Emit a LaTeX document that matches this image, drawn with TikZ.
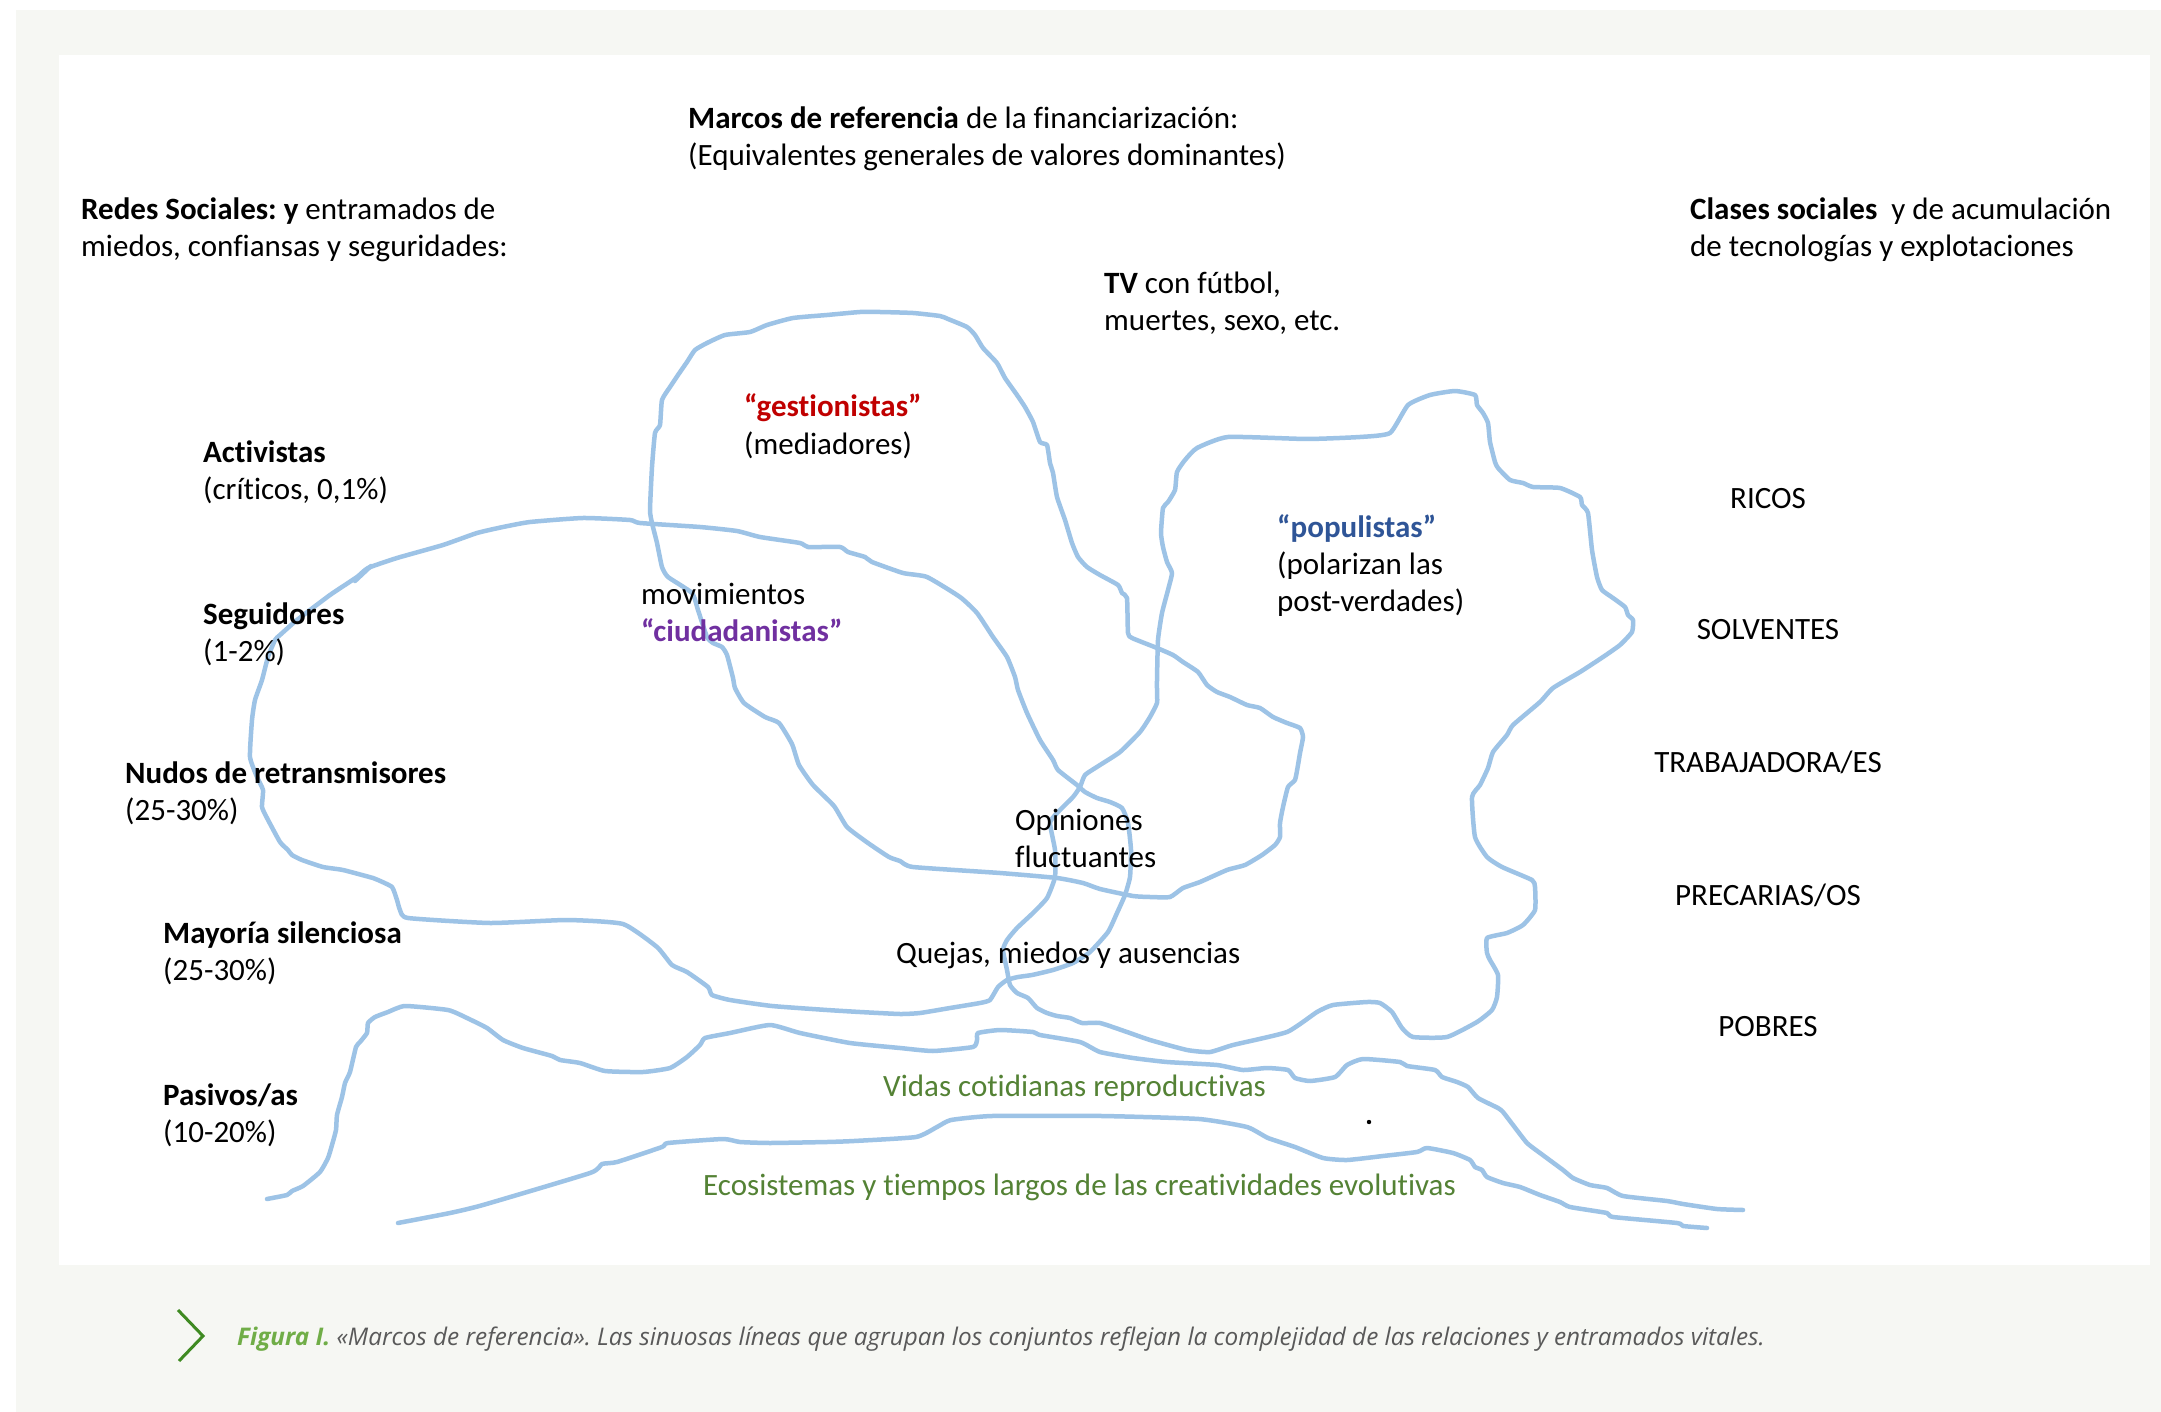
\documentclass[tikz,border=0pt]{standalone}
\usepackage{fontspec}
\setmainfont{Carlito}[Ligatures={TeX,CommonOff}]
\newfontfamily\capfont{Open Sans}[Ligatures={TeX,CommonOff}]
\frenchspacing
\definecolor{lineblue}{HTML}{9DC3E6}
\definecolor{panelgray}{HTML}{F6F7F3}
\definecolor{gestred}{HTML}{C00000}
\definecolor{ciudpurple}{HTML}{7030A0}
\definecolor{popblue}{HTML}{2F5597}
\definecolor{vidagreen}{HTML}{548235}
\definecolor{figgreen}{HTML}{70AD47}
\definecolor{chevgreen}{HTML}{3F8A22}
\definecolor{capgray}{HTML}{595959}
\begin{document}
\begin{tikzpicture}[x=1pt, y=-1pt, line join=round, line cap=round,
  lbl/.style={anchor=base west, inner sep=0pt, font=\fontsize{31}{37}\selectfont},
  clase/.style={lbl, anchor=base},
  verde/.style={lbl, text=vidagreen},
  frontera/.style={draw=lineblue, line width=4.5pt},
  capstyle/.style={anchor=base west, inner sep=0pt, text=capgray,
    font=\capfont\itshape\fontsize{24.3}{29}\selectfont}]

  \useasboundingbox (0,0) rectangle (2161,1412);
  % fondo y panel blanco
  \fill[panelgray] (16,10) rectangle (2161,1412);
  \fill[white] (59,55) rectangle (2150,1265);

  % conjunto de los "gestionistas" (cerrado)
  \draw[frontera] plot[smooth cycle, tension=0.3] coordinates {
    (735,688) (733,678) (727,655) (722,647) (713,643) (707,637) (698,610) (692,593)
    (668,577) (662,567) (657,543) (652,523) (650,510) (652,467) (655,433) (660,425)
    (662,400) (670,387) (678,375) (687,362) (695,350) (707,343) (725,335) (750,332)
    (767,325) (793,318) (827,315) (860,312) (880,312) (913,313) (940,316) (948,319)
    (967,327) (975,335) (983,348) (997,363) (1005,378) (1017,395) (1025,407) (1033,422)
    (1040,442) (1047,445) (1050,463) (1053,473) (1057,497) (1065,520) (1072,543) (1078,557)
    (1087,567) (1100,575) (1118,585) (1122,593) (1127,598) (1128,633) (1132,638) (1157,648)
    (1173,655) (1183,662) (1198,672) (1207,685) (1217,692) (1230,697) (1247,705) (1260,708)
    (1273,717) (1287,723) (1300,728) (1303,737) (1300,753) (1298,765) (1295,780) (1288,787)
    (1283,807) (1280,823) (1280,837) (1275,845) (1262,855) (1245,865) (1227,870) (1200,882)
    (1183,888) (1170,897) (1150,897) (1133,896) (1100,889) (1083,883) (1057,878) (1000,873)
    (913,867) (900,861) (889,857) (868,843) (847,827) (834,806) (813,785) (799,765)
    (792,744) (779,723) (765,717) (744,703)};

  % redes sociales (cerrado)
  \draw[frontera] plot[smooth cycle, tension=0.3] coordinates {
    (368,568) (397,558) (443,545) (477,533) (503,527) (530,522) (583,518) (630,520)
    (640,523) (700,527) (737,531) (760,537) (800,543) (808,547) (840,547) (848,552)
    (865,557) (872,562) (903,573) (927,577) (960,597) (977,613) (993,637) (1007,657)
    (1015,677) (1018,690) (1027,713) (1040,740) (1053,760) (1058,770) (1077,785) (1085,792)
    (1097,798) (1110,802) (1122,808) (1128,823) (1131,850) (1130,877) (1125,895) (1117,913)
    (1108,932) (1090,952) (1073,963) (1053,970) (1032,975) (1018,977) (1007,980) (998,987)
    (990,1000) (980,1003) (950,1008) (920,1013) (900,1014) (860,1012) (827,1010) (772,1006)
    (730,1000) (712,995) (708,987) (687,972) (672,965) (657,947) (623,924) (567,920)
    (490,923) (408,918) (400,910) (397,900) (392,887) (378,880) (373,878) (343,870)
    (323,867) (302,860) (292,855) (288,850) (280,842) (267,818) (262,807) (263,790)
    (257,777) (250,757) (252,720) (255,700) (262,680) (268,657) (275,640) (280,635)
    (297,620) (330,595) (357,577)};
  \draw[frontera] (355,581) -- (371,566);

  % "populistas" (cerrado)
  \draw[frontera] plot[smooth cycle, tension=0.3] coordinates {
    (1157,690) (1157,680) (1158,640) (1162,613) (1168,590) (1172,573) (1167,562) (1163,547)
    (1161,533) (1163,508) (1168,502) (1175,490) (1177,472) (1185,460) (1197,448) (1228,437)
    (1307,439) (1360,437) (1390,433) (1408,405) (1430,395) (1455,391) (1475,395) (1477,405)
    (1483,413) (1488,423) (1490,442) (1495,462) (1498,468) (1510,480) (1523,483) (1533,487)
    (1560,488) (1580,497) (1582,505) (1588,513) (1592,550) (1597,577) (1602,590) (1613,598)
    (1625,607) (1628,615) (1633,620) (1632,632) (1620,645) (1603,657) (1580,672) (1553,688)
    (1540,702) (1513,725) (1507,735) (1493,752) (1488,768) (1480,785) (1472,797) (1475,837)
    (1487,857) (1502,867) (1532,880) (1535,887) (1535,910) (1523,925) (1507,933) (1487,938)
    (1487,953) (1490,960) (1498,975) (1497,997) (1492,1010) (1477,1022) (1447,1037) (1413,1037)
    (1402,1028) (1392,1012) (1380,1003) (1367,1002) (1333,1005) (1317,1012) (1287,1032) (1233,1045)
    (1210,1052) (1187,1050) (1150,1040) (1127,1032) (1100,1023) (1082,1023) (1070,1018) (1057,1016)
    (1047,1013) (1037,1008) (1028,998) (1017,993) (1010,985) (1007,970) (1003,950) (1007,940)
    (1017,928) (1033,913) (1047,898) (1055,877) (1055,850) (1050,823) (1057,813) (1073,797)
    (1080,787) (1085,775) (1100,765) (1120,752) (1140,732) (1150,717) (1157,703)};

  % vidas cotidianas (abierta)
  \draw[frontera] plot[smooth, tension=0.3] coordinates {
    (267,1199) (287,1195) (292,1191) (303,1186) (320,1172) (328,1158) (332,1145) (336,1130)
    (337,1115) (342,1097) (345,1083) (350,1072) (356,1047) (360,1042) (367,1033) (368,1023)
    (375,1017) (388,1012) (405,1006) (448,1010) (467,1018) (487,1028) (503,1040) (523,1048)
    (552,1056) (560,1060) (580,1063) (605,1071) (643,1072) (670,1068) (687,1057) (700,1045)
    (705,1038) (730,1033) (770,1025) (800,1033) (850,1043) (900,1048) (933,1051) (973,1047)
    (977,1040) (978,1033) (1000,1030) (1033,1032) (1040,1035) (1080,1042) (1100,1052) (1133,1058)
    (1167,1062) (1217,1065) (1243,1070) (1267,1068) (1288,1070) (1295,1078) (1310,1081) (1335,1077)
    (1347,1065) (1363,1059) (1400,1062) (1407,1066) (1435,1070) (1442,1077) (1457,1082) (1468,1087)
    (1478,1098) (1498,1108) (1503,1112) (1513,1125) (1527,1143) (1540,1153) (1563,1170) (1573,1178)
    (1590,1185) (1607,1188) (1623,1196) (1667,1201) (1683,1204) (1717,1209) (1743,1210)};

  % ecosistemas (abierta)
  \draw[frontera] plot[smooth, tension=0.3] coordinates {
    (398,1223) (450,1213) (483,1205) (590,1173) (602,1164) (617,1162) (662,1147) (668,1143)
    (723,1139) (740,1142) (770,1143) (827,1142) (854,1141) (916,1137) (937,1127) (951,1120)
    (992,1116) (1102,1116) (1199,1119) (1247,1127) (1268,1138) (1295,1147) (1323,1158) (1347,1160)
    (1383,1156) (1417,1152) (1427,1148) (1453,1153) (1470,1160) (1475,1167) (1482,1170) (1487,1177)
    (1503,1183) (1520,1187) (1540,1195) (1560,1202) (1570,1207) (1607,1213) (1613,1217) (1677,1223)
    (1683,1226) (1707,1228)};

  \fill (1369,1122) circle (2.2);

  % textos de arriba
  \node[lbl] (marcos) at (688,129) {\textbf{Marcos de referencia} de la financiarización:};
  \node[lbl] (equiv) at (688,166) {(Equivalentes generales de valores dominantes)};
  \node[lbl] (redes) at (81,220) {\textbf{Redes Sociales: y} entramados de};
  \node[lbl] (miedos) at (81,257) {miedos, confiansas y seguridades:};
  \node[lbl] (clases) at (1690,220) {\textbf{Clases sociales}\ \ y de acumulación};
  \node[lbl] (tecno) at (1690,257) {de tecnologías y explotaciones};
  \node[lbl] (tv) at (1104,294) {\textbf{TV} con fútbol,};
  \node[lbl] (muertes) at (1104,331) {muertes, sexo, etc.};

  % redes sociales, de arriba abajo
  \node[lbl] (activ) at (203,462) {\textbf{Activistas}};
  \node[lbl] (activp) at (203,499) {(críticos, 0,1\%)};
  \node[lbl] (segui) at (203,624) {\textbf{Seguidores}};
  \node[lbl] (seguip) at (203,661) {(1-2\%)};
  \node[lbl] (nudos) at (125,783) {\textbf{Nudos de retransmisores}};
  \node[lbl] (nudosp) at (125,820) {(25-30\%)};
  \node[lbl] (mayor) at (163,943) {\textbf{Mayoría silenciosa}};
  \node[lbl] (mayorp) at (163,980) {(25-30\%)};
  \node[lbl] (pasiv) at (163,1105) {\textbf{Pasivos/as}};
  \node[lbl] (pasivp) at (163,1142) {(10-20\%)};

  % conjuntos
  \node[lbl, text=gestred] (gest) at (744,417) {\textbf{“gestionistas”}};
  \node[lbl] (media) at (744,454) {(mediadores)};
  \node[lbl] (movim) at (641,604) {movimientos};
  \node[lbl, text=ciudpurple] (ciud) at (641,641) {\textbf{“ciudadanistas”}};
  \node[lbl, text=popblue] (popu) at (1277,537) {\textbf{“populistas”}};
  \node[lbl] (polar) at (1277,574) {(polarizan las};
  \node[lbl] (postv) at (1277,611) {post-verdades)};
  \node[lbl] (opin) at (1015,830) {Opiniones};
  \node[lbl] (fluct) at (1015,867) {fluctuantes};
  \node[lbl] (quejas) at (896,963) {Quejas, miedos y ausencias};
  \node[verde] (vidas) at (883,1096) {Vidas cotidianas reproductivas};
  \node[verde] (ecosis) at (703,1195) {Ecosistemas y tiempos largos de las creatividades evolutivas};

  % clases sociales
  \node[clase] (ricos) at (1768,508) {RICOS};
  \node[clase] (solv) at (1768,639) {SOLVENTES};
  \node[clase] (trab) at (1768,772) {TRABAJADORA/ES};
  \node[clase] (prec) at (1768,905) {PRECARIAS/OS};
  \node[clase] (pobres) at (1768,1036) {POBRES};

  % pie de figura
  \draw[chevgreen, line width=3pt, line cap=butt, line join=miter] (178,1310) -- (203,1336) -- (179,1361);
  \node[capstyle] (pie) at (237,1345) {\textcolor{figgreen}{\bfseries Figura I.} «Marcos de referencia». Las sinuosas líneas que agrupan los conjuntos reflejan la complejidad de las relaciones y entramados vitales.};
\end{tikzpicture}
\end{document}
